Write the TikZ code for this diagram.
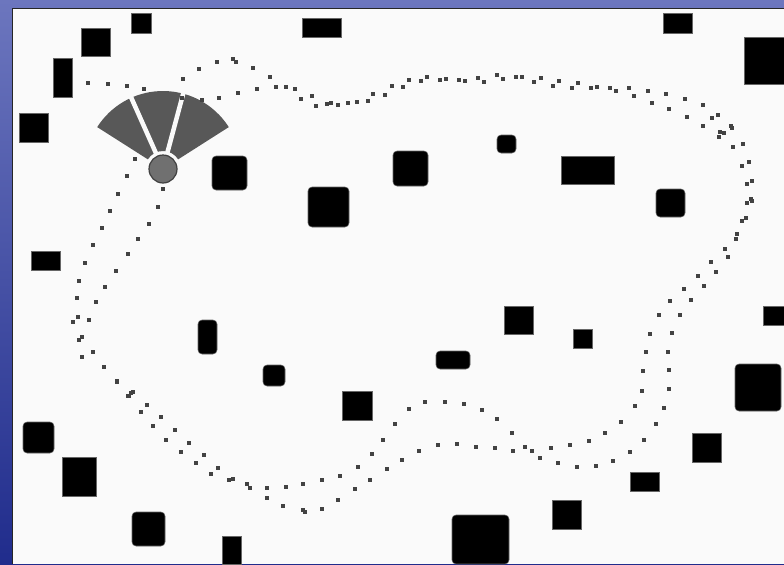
\documentclass[tikz,border=0pt]{standalone}
\usepackage{tikz}
\usetikzlibrary{calc}
\definecolor{framehi}{RGB}{108,118,190}
\definecolor{framelo}{RGB}{32,44,140}
\definecolor{paper}{RGB}{250,250,250}
\definecolor{fangray}{RGB}{88,88,88}
\definecolor{robgray}{RGB}{112,112,112}
\definecolor{dotgray}{RGB}{66,66,66}
\tikzset{
    obst/.style={fill=black, draw=black!60, line width=0.4pt},
    obstr/.style={obst, rounded corners=3pt},
    fanwedge/.style={fill=fangray},
    fangap/.style={draw=paper, line width=3.4pt},
    robotbody/.style={circle, fill=robgray, draw=black!75, line width=0.9pt,
                      minimum size=21pt, inner sep=0pt},
    trackdot/.style={fill=dotgray},
}

\begin{document}
\begin{tikzpicture}[x=0.75pt, y=-0.75pt]
    \useasboundingbox (0,0) rectangle (784,564);
    \shade[top color=framehi, bottom color=framelo] (0,0) rectangle (784,564);
    \fill[paper] (12,8) rectangle (784,564);
    \draw[black!85, line width=1.2pt] (12.5,564) -- (12.5,8.5) -- (784,8.5);

    % obstacles
    \foreach \xa/\ya/\xb/\yb in {131/13/151/33, 81/28/110/56, 53/58/72/97,
        19/113/48/142, 302/18/341/37, 663/13/692/33, 744/37/784/84,
        561/156/614/184, 31/251/60/270, 342/391/372/420, 504/306/533/334,
        573/329/592/348, 763/306/784/325, 62/457/96/496, 222/536/241/564,
        692/433/721/462, 630/472/659/491, 552/500/581/529}
        \draw[obst] (\xa,\ya) rectangle (\xb,\yb);
    \foreach \xa/\ya/\xb/\yb in {212/156/247/190, 393/151/428/186,
        497/135/516/153, 308/187/349/227, 656/189/685/217, 198/320/217/354,
        263/365/285/386, 436/351/470/369, 735/364/781/411, 23/422/54/453,
        132/512/165/546, 452/515/509/564}
        \draw[obstr] (\xa,\ya) rectangle (\xb,\yb);

    % sensor fan and robot
    \coordinate (pose) at (163,169);
    \fill[fanwedge] ($(pose)+(32.5:13.5pt)$) -- ($(pose)+(32.5:58.5pt)$)
        arc[start angle=32.5, end angle=147.5, radius=58.5pt]
        -- ($(pose)+(147.5:13.5pt)$)
        arc[start angle=147.5, end angle=32.5, radius=13.5pt] -- cycle;
    \foreach \g in {75,114}
        \draw[fangap] (pose) -- ++(\g:59pt);
    \node[robotbody] (robot) at (pose) {};

    % estimated tracks
    \foreach \px/\py in {88/83, 108/84, 127/86, 144/89, 182/98, 202/100,
        219/98, 238/93, 257/89, 183/79, 199/69, 217/62, 233/59, 236/62,
        253/68, 135/159, 127/176, 118/194, 163/189,
        270/77, 276/87, 286/87, 295/89, 301/99, 312/96, 316/106, 327/104,
        331/103, 338/105, 348/103, 357/102, 368/101, 373/94, 385/95, 392/86,
        403/87, 409/80, 421/81, 427/77, 440/80, 446/79, 459/80, 465/81,
        478/78, 484/82, 497/75, 503/79, 516/77,
        522/77, 534/82, 541/78, 553/86, 559/81, 572/88, 578/83, 591/88,
        597/87, 610/88, 616/91, 629/88, 634/96, 648/91, 652/103, 666/94,
        669/109, 685/99, 687/117, 703/105, 703/126, 712/118, 718/115,
        720/132, 719/137, 724/133, 731/126, 732/128, 733/147, 743/144,
        742/166, 749/162, 747/184, 752/181, 751/199,
        747/203, 752/201, 742/221, 746/218, 737/234, 736/239, 725/249,
        728/257, 711/262, 716/272, 698/276, 704/286, 684/289, 691/300,
        670/301, 680/315, 659/315, 672/333, 650/334, 668/352, 646/352,
        669/370, 643/371, 669/389, 642/391,
        635/406, 664/408, 621/422, 656/424, 605/433, 644/440, 589/441,
        630/452, 570/445, 613/461, 551/448, 596/466, 525/447, 532/451,
        540/458, 558/463, 577/467,
        267/488, 267/498, 286/487, 283/506, 303/484, 303/510, 305/512,
        322/480, 322/509, 340/476, 338/500, 358/467, 355/489, 372/454,
        370/480, 383/440, 387/469, 395/424, 402/460, 409/409, 419/451,
        425/402, 438/445, 445/402, 457/444, 464/404, 476/447, 482/410,
        495/448, 497/419, 512/433, 513/451,
        117/382, 128/396, 133/392, 141/412, 147/405, 153/426, 161/417,
        166/440, 175/430, 181/452, 189/443, 196/463, 204/455, 211/474,
        218/468, 229/480, 233/479, 247/484, 250/488,
        110/211, 102/228, 93/245, 85/263, 79/281, 77/298, 78/317, 73/322,
        82/337, 79/340, 82/357, 93/352, 104/367, 117/381, 131/393, 129/396,
        158/207, 149/224, 138/239, 128/254, 116/271, 105/287, 96/302, 89/320}
        \fill[trackdot] (\px-1.6,\py-1.6) rectangle ++(3.2,3.2);
\end{tikzpicture}
\end{document}
